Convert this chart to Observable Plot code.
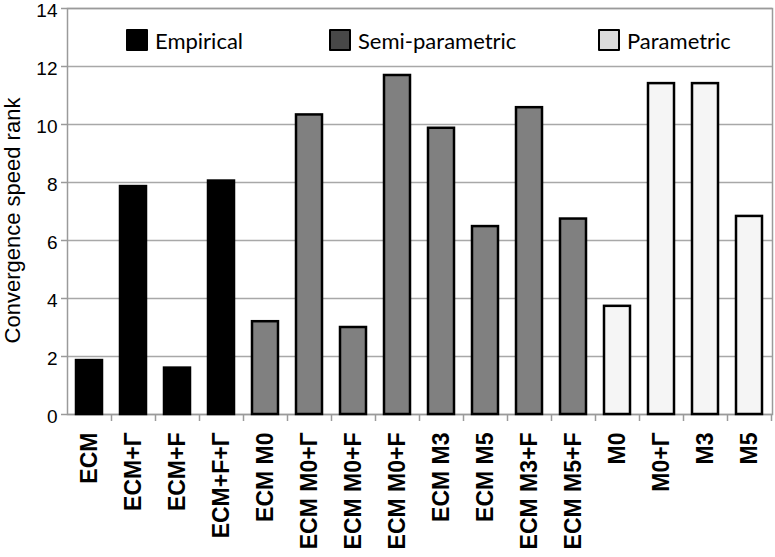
<!DOCTYPE html>
<html>
<head>
<meta charset="utf-8">
<script src="https://cdn.jsdelivr.net/npm/d3@7"></script>
<script src="https://cdn.jsdelivr.net/npm/@observablehq/plot@0.6"></script>
<style>
  body { margin: 0; background: #fff; }
  #wrap { position: relative; width: 775px; height: 557px; }
  .leg { position: absolute; top: 28px; height: 24px; display: flex; align-items: center;
         font-family: Lato, "Open Sans", sans-serif; font-size: 22px; color: #000; }
  .sw { box-sizing: border-box; width: 22px; height: 22px; border: 2px solid #000; border-radius: 1px; margin-right: 7px; }
  g[aria-label="x-axis tick label"] text { font-weight: bold; }
</style>
</head>
<body>
<div id="wrap"></div>
<script>
const categories = ["ECM", "ECM+Γ", "ECM+F", "ECM+F+Γ", "ECM M0", "ECM M0+Γ", "ECM M0+F", "ECM M0+F",
                    "ECM M3", "ECM M5", "ECM M3+F", "ECM M5+F", "M0", "M0+Γ", "M3", "M5"];
const groups = ["Empirical", "Empirical", "Empirical", "Empirical",
                "Semi-parametric", "Semi-parametric", "Semi-parametric", "Semi-parametric",
                "Semi-parametric", "Semi-parametric", "Semi-parametric", "Semi-parametric",
                "Parametric", "Parametric", "Parametric", "Parametric"];
const values = [1.86, 7.86, 1.6, 8.05, 3.2, 10.33, 3.0, 11.69, 9.87, 6.48, 10.58, 6.74, 3.73, 11.41, 11.41, 6.83];
const yTicks = [0, 2, 4, 6, 8, 10, 12, 14];
const groupNames = ["Empirical", "Semi-parametric", "Parametric"];
const barColors = ["#000000", "#808080", "#f5f5f5"];
const legendColors = ["#000000", "#484848", "#dcdcdc"];
const yLabel = "Convergence speed rank";

// unique keys because two categories share the label "ECM M0+F"
const data = categories.map((c, i) => ({key: i, cat: c, group: groups[i], value: values[i]}));

const chart = Plot.plot({
  width: 775,
  height: 557,
  marginLeft: 67,
  marginRight: 3,
  marginTop: 8,
  marginBottom: 143,
  style: {fontFamily: '"Liberation Sans", Arial, sans-serif', background: "#fff", color: "#000"},
  x: {type: "band", domain: data.map(d => d.key), paddingInner: 0.4, paddingOuter: 0.2},
  y: {domain: [0, 14]},
  color: {domain: groupNames, range: barColors},
  marks: [
    Plot.gridY(yTicks, {stroke: "#a8a8a8", strokeOpacity: 1, strokeWidth: 1.5}),
    Plot.frame({stroke: "#9a9a9a", strokeWidth: 1.5}),
    Plot.barY(data, {x: "key", y: "value", fill: "group", stroke: "#000", strokeWidth: 2.5}),
    Plot.axisY({ticks: yTicks, tickSize: 6, tickFormat: () => "", label: null, stroke: "#9a9a9a", strokeWidth: 1.5}),
    Plot.axisY({ticks: yTicks, tickSize: 0, tickPadding: 10, dy: 2, fontSize: 19, label: null}),
    Plot.axisX({tickFormat: () => "", tickSize: 7, dx: 22, label: null, stroke: "#9a9a9a", strokeWidth: 1.5}),
    Plot.axisX({tickFormat: k => categories[k], tickSize: 0, tickPadding: 18, tickRotate: -90, fontSize: 23, fontWeight: "bold", label: null}),
    Plot.text([yLabel], {text: d => d, frameAnchor: "left", textAnchor: "middle", dx: -55, dy: 9, rotate: -90, fontSize: 22})
  ]
});
const wrap = document.getElementById("wrap");
wrap.appendChild(chart);

const legendPos = [[126, 155], [329, 357], [598, 627]];
groupNames.forEach((g, i) => {
  const el = document.createElement("div");
  el.className = "leg";
  el.style.left = legendPos[i][0] + "px";
  el.innerHTML = `<div class="sw" style="background:${legendColors[i]}"></div><span>${g}</span>`;
  wrap.appendChild(el);
});
</script>
</body>
</html>
